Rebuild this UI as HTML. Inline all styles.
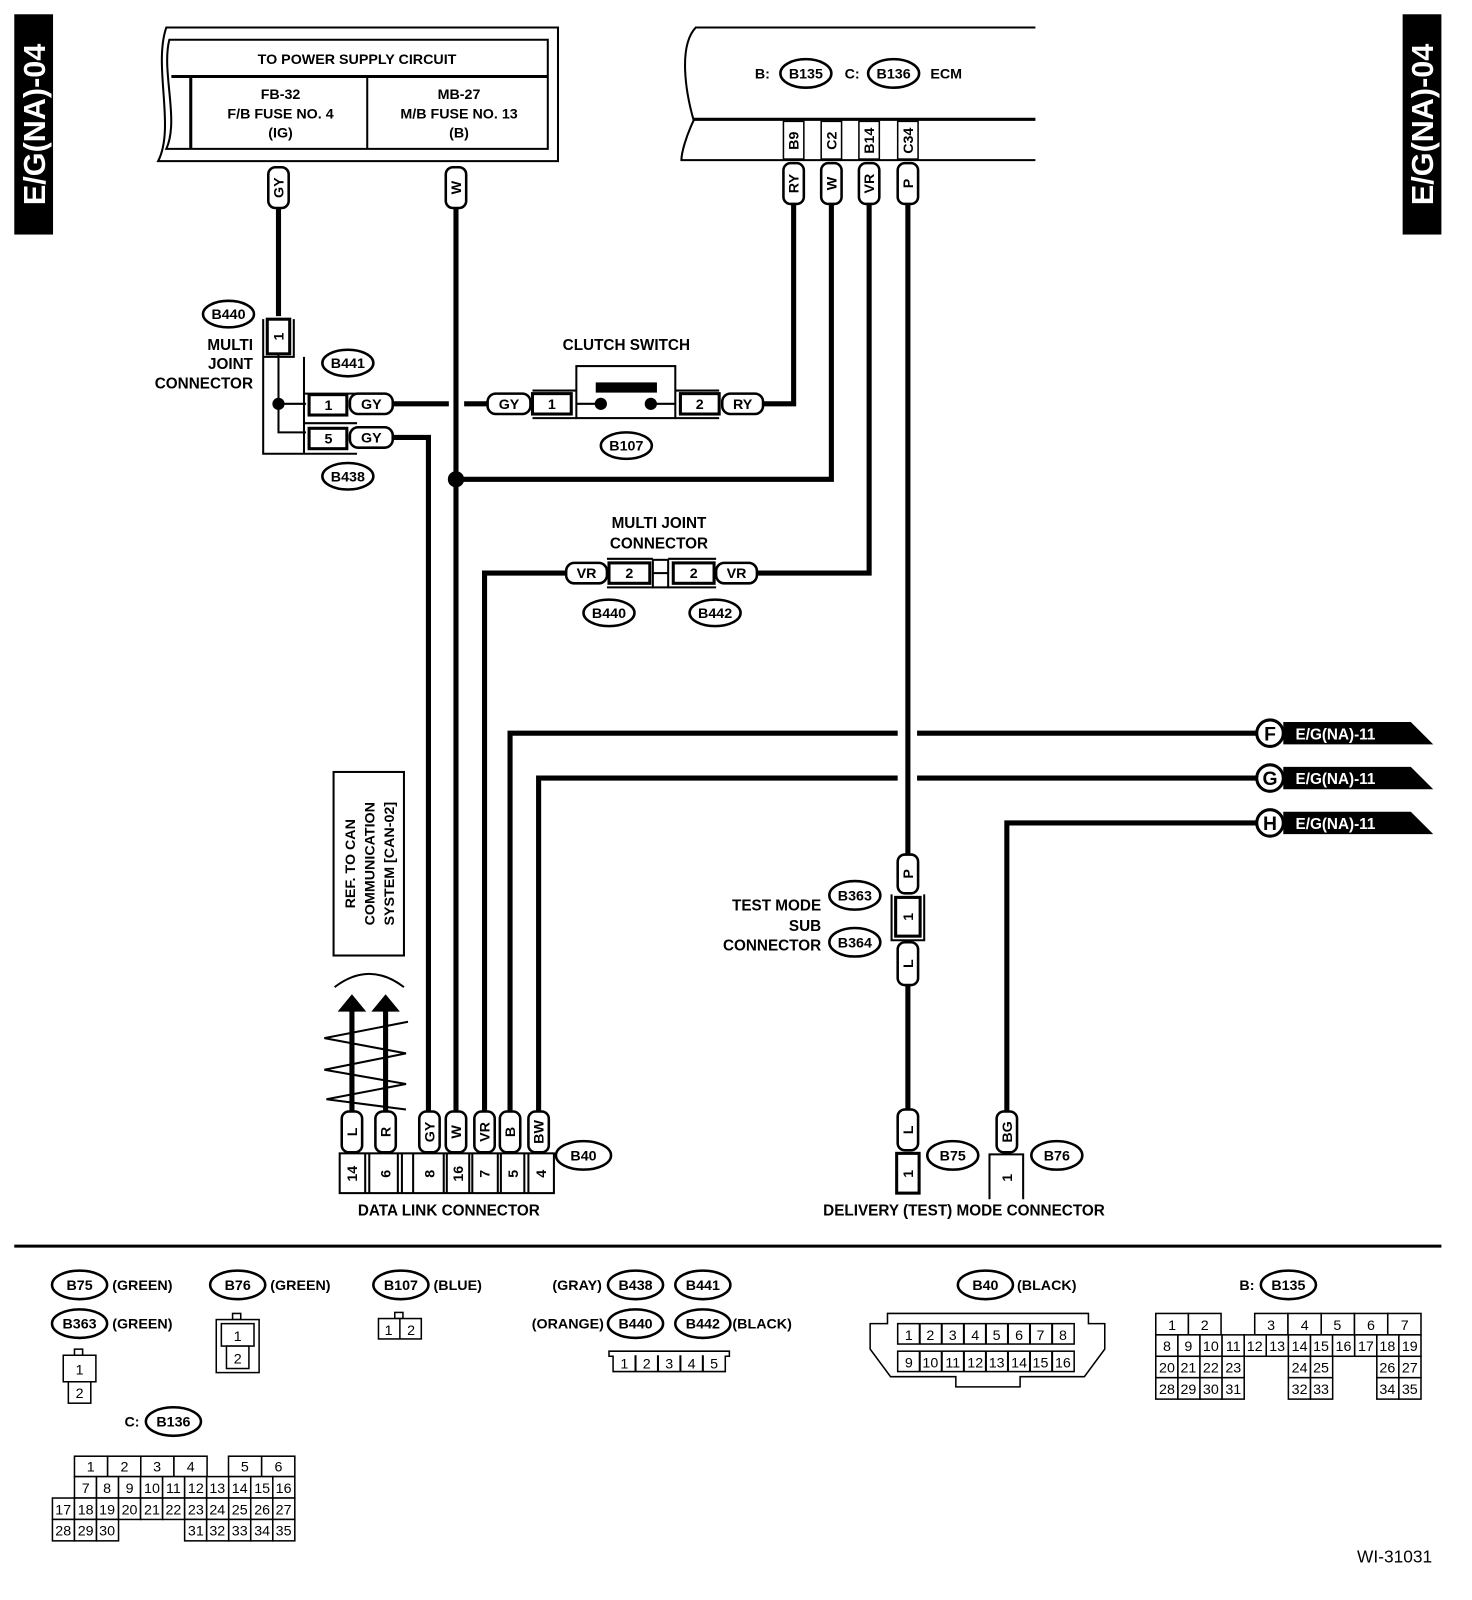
<!DOCTYPE html>
<html><head><meta charset="utf-8"><style>
html,body{margin:0;padding:0;background:#fff}
svg{display:block}
text{font-family:"Liberation Sans",Arial,sans-serif;font-weight:bold;fill:#000}
.w{stroke:#000;stroke-width:5;fill:none}
.t{fill:#fff;stroke:#000;stroke-width:2.5}
.b{fill:#fff;stroke:#000;stroke-width:3}
.o{fill:#fff;stroke:#000;stroke-width:2.5}
.l{fill:none;stroke:#000;stroke-width:2}
.c{fill:#fff;stroke:#000;stroke-width:1.5}
.s{font-size:14px}
.m{font-size:15px}
.g{font-weight:normal;font-size:14px}
</style></head><body>
<svg width="1472" height="1600" viewBox="0 0 1443 1569" preserveAspectRatio="none" xmlns="http://www.w3.org/2000/svg">
<!-- side tabs -->
<rect x="14" y="14" width="38" height="216" fill="#000"/>
<text transform="translate(44,122) rotate(-90)" text-anchor="middle" font-size="30" style="fill:#fff">E/G(NA)-04</text>
<rect x="1375" y="14" width="38" height="216" fill="#000"/>
<text transform="translate(1405,122) rotate(-90)" text-anchor="middle" font-size="30" style="fill:#fff">E/G(NA)-04</text>

<!-- power supply box -->
<path d="M163,27 L547,27 L547,158 L155,158 C172,125 150,65 163,27 Z" class="l" stroke-width="3"/>
<path d="M166,39 L537,39 L537,146 L163,146 C176,118 158,70 166,39 Z" class="l" stroke-width="3"/>
<line x1="168" y1="75" x2="537" y2="75" stroke="#000" stroke-width="3"/>
<line x1="187" y1="75" x2="187" y2="146" stroke="#000" stroke-width="3"/>
<line x1="360" y1="75" x2="360" y2="146" stroke="#000" stroke-width="2"/>
<text x="350" y="63" text-anchor="middle" class="s">TO POWER SUPPLY CIRCUIT</text>
<text x="275" y="97" text-anchor="middle" class="s">FB-32</text>
<text x="275" y="116" text-anchor="middle" class="s">F/B FUSE NO. 4</text>
<text x="275" y="135" text-anchor="middle" class="s">(IG)</text>
<text x="450" y="97" text-anchor="middle" class="s">MB-27</text>
<text x="450" y="116" text-anchor="middle" class="s">M/B FUSE NO. 13</text>
<text x="450" y="135" text-anchor="middle" class="s">(B)</text>

<!-- ECM box -->
<path d="M1015,27 L682,27 C665,45 672,90 680,118 C672,135 668,150 668,157 L1015,157" class="l" stroke-width="3"/>
<line x1="680" y1="117" x2="1015" y2="117" stroke="#000" stroke-width="3"/>
<text x="740" y="77" class="s">B:</text>
<ellipse cx="790" cy="72" rx="25" ry="14" class="o"/><text x="790" y="77" text-anchor="middle" class="s">B135</text>
<text x="828" y="77" class="s">C:</text>
<ellipse cx="876" cy="72" rx="25" ry="14" class="o"/><text x="876" y="77" text-anchor="middle" class="s">B136</text>
<text x="912" y="77" class="s">ECM</text>
<g>
<rect x="768" y="119" width="20" height="37" fill="#fff" stroke="#000" stroke-width="1.5"/>
<rect x="805" y="119" width="20" height="37" fill="#fff" stroke="#000" stroke-width="1.5"/>
<rect x="842" y="119" width="20" height="37" fill="#fff" stroke="#000" stroke-width="1.5"/>
<rect x="880" y="119" width="20" height="37" fill="#fff" stroke="#000" stroke-width="1.5"/>
<text transform="translate(783,138) rotate(-90)" text-anchor="middle" class="s">B9</text>
<text transform="translate(820,138) rotate(-90)" text-anchor="middle" class="s">C2</text>
<text transform="translate(857,138) rotate(-90)" text-anchor="middle" class="s">B14</text>
<text transform="translate(895,138) rotate(-90)" text-anchor="middle" class="s">C34</text>
</g>

<!-- wires -->
<g class="w">
<path d="M273,203 V310"/>
<path d="M447,203 V1090"/>
<path d="M778,200 V396 H748"/>
<path d="M815,200 V470 H447"/>
<path d="M852,200 V562 H742"/>
<path d="M890,200 V838"/>
<path d="M890,965 V1088"/>
<path d="M385,396 H440"/>
<path d="M455,396 H478"/>
<path d="M385,429 H420 V1090"/>
<path d="M555,562 H475 V1090"/>
<path d="M500,1090 V719 H880"/>
<path d="M899,719 H1232"/>
<path d="M528,1090 V763 H880"/>
<path d="M899,763 H1232"/>
<path d="M987,1090 V807 H1232"/>
</g>
<circle cx="447" cy="470" r="8" fill="#000"/>

<!-- top wire tags -->
<rect x="263" y="164" width="20" height="40" rx="7" class="t"/><text transform="translate(278,184) rotate(-90)" text-anchor="middle" class="s">GY</text>
<rect x="437" y="164" width="20" height="40" rx="7" class="t"/><text transform="translate(452,184) rotate(-90)" text-anchor="middle" class="s">W</text>
<rect x="768" y="160" width="20" height="40" rx="7" class="t"/><text transform="translate(783,180) rotate(-90)" text-anchor="middle" class="s">RY</text>
<rect x="805" y="160" width="20" height="40" rx="7" class="t"/><text transform="translate(820,180) rotate(-90)" text-anchor="middle" class="s">W</text>
<rect x="842" y="160" width="20" height="40" rx="7" class="t"/><text transform="translate(857,180) rotate(-90)" text-anchor="middle" class="s">VR</text>
<rect x="880" y="160" width="20" height="40" rx="7" class="t"/><text transform="translate(895,180) rotate(-90)" text-anchor="middle" class="s">P</text>

<!-- multi joint B440/B441/B438 -->
<ellipse cx="224" cy="308" rx="25" ry="13" class="o"/><text x="224" y="313" text-anchor="middle" class="s">B440</text>
<text x="248" y="343" text-anchor="end" class="m">MULTI</text>
<text x="248" y="362" text-anchor="end" class="m">JOINT</text>
<text x="248" y="381" text-anchor="end" class="m">CONNECTOR</text>
<rect x="262" y="313" width="22" height="34" class="b"/>
<text transform="translate(278,330) rotate(-90)" text-anchor="middle" class="s">1</text>
<path d="M258,313 V445 H350 M288,313 V350 H258 M298,350 V445 M298,386 H350 M298,415 H350" class="l" stroke-width="2.5"/>
<path d="M273,347 V424 H300 M273,396 H300" class="l" stroke-width="2.5"/>
<circle cx="273" cy="396" r="6" fill="#000"/>
<rect x="303" y="387" width="37" height="20" class="b"/><text x="322" y="402" text-anchor="middle" class="s">1</text>
<rect x="303" y="420" width="37" height="20" class="b"/><text x="322" y="435" text-anchor="middle" class="s">5</text>
<rect x="343" y="386" width="42" height="20" rx="8" class="t"/><text x="364" y="401" text-anchor="middle" class="s">GY</text>
<rect x="343" y="419" width="42" height="20" rx="8" class="t"/><text x="364" y="434" text-anchor="middle" class="s">GY</text>
<ellipse cx="341" cy="356" rx="25" ry="13" class="o"/><text x="341" y="361" text-anchor="middle" class="s">B441</text>
<ellipse cx="341" cy="467" rx="25" ry="13" class="o"/><text x="341" y="472" text-anchor="middle" class="s">B438</text>

<!-- clutch switch -->
<text x="614" y="343" text-anchor="middle" class="m">CLUTCH SWITCH</text>
<rect x="478" y="386" width="42" height="20" rx="8" class="t"/><text x="499" y="401" text-anchor="middle" class="s">GY</text>
<rect x="522" y="386" width="38" height="20" class="b"/><text x="541" y="401" text-anchor="middle" class="s">1</text>
<path d="M522,383 H565 M522,410 H565" class="l"/>
<rect x="565" y="359" width="97" height="51" class="l" stroke-width="2.5"/>
<rect x="584" y="375" width="60" height="10" fill="#000"/>
<circle cx="589" cy="396" r="6" fill="#000"/><circle cx="638" cy="396" r="6" fill="#000"/>
<path d="M565,396 H589 M638,396 H662" class="l"/>
<rect x="667" y="386" width="38" height="20" class="b"/><text x="686" y="401" text-anchor="middle" class="s">2</text>
<path d="M662,383 H705 M662,410 H705" class="l"/>
<rect x="708" y="386" width="40" height="20" rx="8" class="t"/><text x="728" y="401" text-anchor="middle" class="s">RY</text>
<ellipse cx="614" cy="437" rx="25" ry="13" class="o"/><text x="614" y="442" text-anchor="middle" class="s">B107</text>

<!-- multi joint connector VR -->
<text x="646" y="518" text-anchor="middle" class="m">MULTI JOINT</text>
<text x="646" y="538" text-anchor="middle" class="m">CONNECTOR</text>
<rect x="555" y="552" width="40" height="20" rx="8" class="t"/><text x="575" y="567" text-anchor="middle" class="s">VR</text>
<rect x="597" y="552" width="40" height="20" class="b"/><text x="617" y="567" text-anchor="middle" class="s">2</text>
<rect x="640" y="549" width="15" height="27" class="l"/>
<line x1="640" y1="562" x2="655" y2="562" stroke="#000" stroke-width="2"/>
<path d="M595,548 H640 M595,576 H640 M655,548 H702 M655,576 H702" class="l"/>
<rect x="660" y="552" width="40" height="20" class="b"/><text x="680" y="567" text-anchor="middle" class="s">2</text>
<rect x="702" y="552" width="40" height="20" rx="8" class="t"/><text x="722" y="567" text-anchor="middle" class="s">VR</text>
<ellipse cx="597" cy="601" rx="25" ry="13" class="o"/><text x="597" y="606" text-anchor="middle" class="s">B440</text>
<ellipse cx="701" cy="601" rx="25" ry="13" class="o"/><text x="701" y="606" text-anchor="middle" class="s">B442</text>

<!-- F G H -->
<g>
<polygon points="1258,708 1383,708 1405,730 1258,730" fill="#000"/>
<circle cx="1245" cy="719" r="13" fill="#fff" stroke="#000" stroke-width="3"/>
<text x="1245" y="726" text-anchor="middle" font-size="19">F</text>
<text x="1270" y="725" font-size="15" style="fill:#fff">E/G(NA)-11</text>
<polygon points="1258,752 1383,752 1405,774 1258,774" fill="#000"/>
<circle cx="1245" cy="763" r="13" fill="#fff" stroke="#000" stroke-width="3"/>
<text x="1245" y="770" text-anchor="middle" font-size="19">G</text>
<text x="1270" y="769" font-size="15" style="fill:#fff">E/G(NA)-11</text>
<polygon points="1258,796 1383,796 1405,818 1258,818" fill="#000"/>
<circle cx="1245" cy="807" r="13" fill="#fff" stroke="#000" stroke-width="3"/>
<text x="1245" y="814" text-anchor="middle" font-size="19">H</text>
<text x="1270" y="813" font-size="15" style="fill:#fff">E/G(NA)-11</text>
</g>

<!-- test mode sub connector -->
<rect x="880" y="838" width="20" height="38" rx="7" class="t"/><text transform="translate(895,857) rotate(-90)" text-anchor="middle" class="s">P</text>
<rect x="878" y="880" width="24" height="38" class="b"/><text transform="translate(895,899) rotate(-90)" text-anchor="middle" class="s">1</text>
<path d="M874,877 V922 H906 V877" class="l"/>
<rect x="880" y="924" width="20" height="42" rx="7" class="t"/><text transform="translate(895,945) rotate(-90)" text-anchor="middle" class="s">L</text>
<text x="805" y="893" text-anchor="end" class="m">TEST MODE</text>
<text x="805" y="913" text-anchor="end" class="m">SUB</text>
<text x="805" y="932" text-anchor="end" class="m">CONNECTOR</text>
<ellipse cx="838" cy="878" rx="25" ry="14" class="o"/><text x="838" y="883" text-anchor="middle" class="s">B363</text>
<ellipse cx="838" cy="924" rx="25" ry="14" class="o"/><text x="838" y="929" text-anchor="middle" class="s">B364</text>

<!-- REF box -->
<rect x="327" y="757" width="69" height="180" class="l"/>
<text transform="translate(348,847) rotate(-90)" text-anchor="middle" class="s">REF. TO CAN</text>
<text transform="translate(367,847) rotate(-90)" text-anchor="middle" class="s">COMMUNICATION</text>
<text transform="translate(386,847) rotate(-90)" text-anchor="middle" class="s">SYSTEM [CAN-02]</text>

<!-- DLC arrows -->
<path d="M328,968 Q362,942 396,968" class="l"/>
<path d="M345,1090 V990 M378,1090 V990" class="w"/>
<polygon points="331,992 345,975 359,992" fill="#000"/>
<polygon points="364,992 378,975 392,992" fill="#000"/>
<path d="M400,1002 L318,1018 L398,1033 L318,1049 L398,1063 L320,1078 L398,1088" class="l" stroke-width="3"/>

<!-- DLC tags -->
<g>
<rect x="335" y="1090" width="20" height="40" rx="7" class="t"/><text transform="translate(350,1110) rotate(-90)" text-anchor="middle" class="s">L</text>
<rect x="368" y="1090" width="20" height="40" rx="7" class="t"/><text transform="translate(383,1110) rotate(-90)" text-anchor="middle" class="s">R</text>
<rect x="411" y="1090" width="20" height="40" rx="7" class="t"/><text transform="translate(426,1110) rotate(-90)" text-anchor="middle" class="s">GY</text>
<rect x="437" y="1090" width="20" height="40" rx="7" class="t"/><text transform="translate(452,1110) rotate(-90)" text-anchor="middle" class="s">W</text>
<rect x="465" y="1090" width="20" height="40" rx="7" class="t"/><text transform="translate(480,1110) rotate(-90)" text-anchor="middle" class="s">VR</text>
<rect x="490" y="1090" width="20" height="40" rx="7" class="t"/><text transform="translate(505,1110) rotate(-90)" text-anchor="middle" class="s">B</text>
<rect x="518" y="1090" width="20" height="40" rx="7" class="t"/><text transform="translate(533,1110) rotate(-90)" text-anchor="middle" class="s">BW</text>
</g>
<rect x="333" y="1131" width="210" height="39" class="l" stroke-width="3"/>
<g class="l" stroke-width="2.5">
<path d="M358,1131 V1170 M362,1131 V1170 M390,1131 V1170 M394,1131 V1170 M405,1131 V1170 M435,1131 V1170 M438,1131 V1170 M460,1131 V1170 M463,1131 V1170 M488,1131 V1170 M491,1131 V1170 M514,1131 V1170 M518,1131 V1170"/>
</g>
<text transform="translate(350,1151) rotate(-90)" text-anchor="middle" class="s">14</text>
<text transform="translate(383,1151) rotate(-90)" text-anchor="middle" class="s">6</text>
<text transform="translate(426,1151) rotate(-90)" text-anchor="middle" class="s">8</text>
<text transform="translate(454,1151) rotate(-90)" text-anchor="middle" class="s">16</text>
<text transform="translate(480,1151) rotate(-90)" text-anchor="middle" class="s">7</text>
<text transform="translate(508,1151) rotate(-90)" text-anchor="middle" class="s">5</text>
<text transform="translate(535,1151) rotate(-90)" text-anchor="middle" class="s">4</text>
<ellipse cx="572" cy="1133" rx="27" ry="14" class="o"/><text x="572" y="1138" text-anchor="middle" class="s">B40</text>
<text x="440" y="1192" text-anchor="middle" class="m">DATA LINK CONNECTOR</text>

<!-- delivery mode -->
<rect x="880" y="1088" width="20" height="40" rx="7" class="t"/><text transform="translate(895,1108) rotate(-90)" text-anchor="middle" class="s">L</text>
<rect x="879" y="1131" width="22" height="39" class="b"/><text transform="translate(895,1151) rotate(-90)" text-anchor="middle" class="s">1</text>
<ellipse cx="934" cy="1133" rx="25" ry="14" class="o"/><text x="934" y="1138" text-anchor="middle" class="s">B75</text>
<rect x="977" y="1090" width="20" height="40" rx="7" class="t"/><text transform="translate(992,1110) rotate(-90)" text-anchor="middle" class="s">BG</text>
<path d="M970,1176 V1132 H1003 V1176" class="l" stroke-width="2.5"/>
<text transform="translate(992,1155) rotate(-90)" text-anchor="middle" class="s">1</text>
<ellipse cx="1036" cy="1133" rx="25" ry="14" class="o"/><text x="1036" y="1138" text-anchor="middle" class="s">B76</text>
<text x="945" y="1192" text-anchor="middle" class="m">DELIVERY (TEST) MODE CONNECTOR</text>

<line x1="14" y1="1222" x2="1413" y2="1222" stroke="#000" stroke-width="3"/>

<!-- legend -->
<ellipse cx="78" cy="1260" rx="27" ry="14" class="o"/><text x="78" y="1265" text-anchor="middle" class="s">B75</text>
<text x="110" y="1265" class="s">(GREEN)</text>
<ellipse cx="78" cy="1298" rx="27" ry="14" class="o"/><text x="78" y="1303" text-anchor="middle" class="s">B363</text>
<text x="110" y="1303" class="s">(GREEN)</text>
<rect x="73" y="1323" width="8" height="6" class="c"/>
<rect x="62" y="1329" width="32" height="26" class="c"/><text x="78" y="1348" text-anchor="middle" class="g">1</text>
<rect x="67" y="1355" width="22" height="21" class="c"/><text x="78" y="1371" text-anchor="middle" class="g">2</text>

<ellipse cx="233" cy="1260" rx="27" ry="14" class="o"/><text x="233" y="1265" text-anchor="middle" class="s">B76</text>
<text x="265" y="1265" class="s">(GREEN)</text>
<rect x="228" y="1288" width="8" height="6" class="c"/>
<rect x="212" y="1294" width="42" height="52" class="c"/>
<rect x="217" y="1298" width="32" height="22" class="c"/><text x="233" y="1315" text-anchor="middle" class="g">1</text>
<rect x="222" y="1320" width="22" height="22" class="c"/><text x="233" y="1337" text-anchor="middle" class="g">2</text>

<ellipse cx="393" cy="1260" rx="27" ry="14" class="o"/><text x="393" y="1265" text-anchor="middle" class="s">B107</text>
<text x="425" y="1265" class="s">(BLUE)</text>
<rect x="387" y="1287" width="8" height="6" class="c"/>
<rect x="371" y="1293" width="42" height="20" class="c"/><line x1="392" y1="1293" x2="392" y2="1313" stroke="#000" stroke-width="1.5"/>
<text x="381" y="1309" text-anchor="middle" class="g">1</text><text x="403" y="1309" text-anchor="middle" class="g">2</text>

<text x="590" y="1265" text-anchor="end" class="s">(GRAY)</text>
<ellipse cx="623" cy="1260" rx="27" ry="14" class="o"/><text x="623" y="1265" text-anchor="middle" class="s">B438</text>
<ellipse cx="689" cy="1260" rx="27" ry="14" class="o"/><text x="689" y="1265" text-anchor="middle" class="s">B441</text>
<text x="592" y="1303" text-anchor="end" class="s">(ORANGE)</text>
<ellipse cx="623" cy="1298" rx="27" ry="14" class="o"/><text x="623" y="1303" text-anchor="middle" class="s">B440</text>
<ellipse cx="689" cy="1298" rx="27" ry="14" class="o"/><text x="689" y="1303" text-anchor="middle" class="s">B442</text>
<text x="718" y="1303" class="s">(BLACK)</text>
<path d="M597,1325 V1330 H601 V1345 H711 V1330 H715 V1325 Z" class="c"/>
<g class="l" stroke-width="1.5"><path d="M623,1329 V1345 M645,1329 V1345 M667,1329 V1345 M689,1329 V1345"/></g>
<text x="612" y="1342" text-anchor="middle" class="g">1</text><text x="634" y="1342" text-anchor="middle" class="g">2</text><text x="656" y="1342" text-anchor="middle" class="g">3</text><text x="678" y="1342" text-anchor="middle" class="g">4</text><text x="700" y="1342" text-anchor="middle" class="g">5</text>

<!-- B40 legend -->
<ellipse cx="966" cy="1260" rx="27" ry="14" class="o"/><text x="966" y="1265" text-anchor="middle" class="s">B40</text>
<text x="997" y="1265" class="s">(BLACK)</text>
<path d="M870,1288 H1067 V1298 H1083 V1323 L1063,1350 H1000 V1360 H937 V1350 H873 L853,1323 V1298 H870 Z" class="c"/>
<rect x="880" y="1298" width="173" height="20" class="c"/>
<rect x="880" y="1325" width="173" height="20" class="c"/>
<g class="l" stroke-width="1.5"><path d="M901.6,1298 V1318 M923.2,1298 V1318 M944.9,1298 V1318 M966.5,1298 V1318 M988.1,1298 V1318 M1009.7,1298 V1318 M1031.4,1298 V1318 M901.6,1325 V1345 M923.2,1325 V1345 M944.9,1325 V1345 M966.5,1325 V1345 M988.1,1325 V1345 M1009.7,1325 V1345 M1031.4,1325 V1345"/></g>
<g>
<text x="891" y="1314" class="g" text-anchor="middle">1</text><text x="912" y="1314" class="g" text-anchor="middle">2</text><text x="934" y="1314" class="g" text-anchor="middle">3</text><text x="956" y="1314" class="g" text-anchor="middle">4</text><text x="977" y="1314" class="g" text-anchor="middle">5</text><text x="999" y="1314" class="g" text-anchor="middle">6</text><text x="1020" y="1314" class="g" text-anchor="middle">7</text><text x="1042" y="1314" class="g" text-anchor="middle">8</text>
<text x="891" y="1341" class="g" text-anchor="middle">9</text><text x="912" y="1341" class="g" text-anchor="middle">10</text><text x="934" y="1341" class="g" text-anchor="middle">11</text><text x="956" y="1341" class="g" text-anchor="middle">12</text><text x="977" y="1341" class="g" text-anchor="middle">13</text><text x="999" y="1341" class="g" text-anchor="middle">14</text><text x="1020" y="1341" class="g" text-anchor="middle">15</text><text x="1042" y="1341" class="g" text-anchor="middle">16</text>
</g>

<!-- B135 legend -->
<text x="1215" y="1265" class="s">B:</text>
<ellipse cx="1263" cy="1260" rx="27" ry="14" class="o"/><text x="1263" y="1265" text-anchor="middle" class="s">B135</text>
<g stroke="#000" stroke-width="1.5" fill="#fff">
<rect x="1133" y="1288" width="32" height="21"/><rect x="1165" y="1288" width="32" height="21"/>
<rect x="1230" y="1288" width="32.6" height="21"/><rect x="1262.6" y="1288" width="32.6" height="21"/><rect x="1295.2" y="1288" width="32.6" height="21"/><rect x="1327.8" y="1288" width="32.6" height="21"/><rect x="1360.4" y="1288" width="32.6" height="21"/>
<rect x="1133" y="1309" width="21.7" height="21"/><rect x="1154.7" y="1309" width="21.7" height="21"/><rect x="1176.3" y="1309" width="21.7" height="21"/><rect x="1198" y="1309" width="21.7" height="21"/><rect x="1219.7" y="1309" width="21.7" height="21"/><rect x="1241.3" y="1309" width="21.7" height="21"/><rect x="1263" y="1309" width="21.7" height="21"/><rect x="1284.7" y="1309" width="21.7" height="21"/><rect x="1306.3" y="1309" width="21.7" height="21"/><rect x="1328" y="1309" width="21.7" height="21"/><rect x="1349.7" y="1309" width="21.7" height="21"/><rect x="1371.3" y="1309" width="21.7" height="21"/>
<rect x="1133" y="1330" width="21.7" height="21"/><rect x="1154.7" y="1330" width="21.7" height="21"/><rect x="1176.3" y="1330" width="21.7" height="21"/><rect x="1198" y="1330" width="21.7" height="21"/>
<rect x="1263" y="1330" width="21.7" height="21"/><rect x="1284.7" y="1330" width="21.7" height="21"/>
<rect x="1349.7" y="1330" width="21.7" height="21"/><rect x="1371.3" y="1330" width="21.7" height="21"/>
<rect x="1133" y="1351" width="21.7" height="21"/><rect x="1154.7" y="1351" width="21.7" height="21"/><rect x="1176.3" y="1351" width="21.7" height="21"/><rect x="1198" y="1351" width="21.7" height="21"/>
<rect x="1263" y="1351" width="21.7" height="21"/><rect x="1284.7" y="1351" width="21.7" height="21"/>
<rect x="1349.7" y="1351" width="21.7" height="21"/><rect x="1371.3" y="1351" width="21.7" height="21"/>
</g>
<g>
<text x="1149" y="1304" class="g" text-anchor="middle">1</text><text x="1181" y="1304" class="g" text-anchor="middle">2</text><text x="1246" y="1304" class="g" text-anchor="middle">3</text><text x="1279" y="1304" class="g" text-anchor="middle">4</text><text x="1311" y="1304" class="g" text-anchor="middle">5</text><text x="1344" y="1304" class="g" text-anchor="middle">6</text><text x="1377" y="1304" class="g" text-anchor="middle">7</text>
<text x="1144" y="1325" class="g" text-anchor="middle">8</text><text x="1165" y="1325" class="g" text-anchor="middle">9</text><text x="1187" y="1325" class="g" text-anchor="middle">10</text><text x="1209" y="1325" class="g" text-anchor="middle">11</text><text x="1230" y="1325" class="g" text-anchor="middle">12</text><text x="1252" y="1325" class="g" text-anchor="middle">13</text><text x="1274" y="1325" class="g" text-anchor="middle">14</text><text x="1295" y="1325" class="g" text-anchor="middle">15</text><text x="1317" y="1325" class="g" text-anchor="middle">16</text><text x="1339" y="1325" class="g" text-anchor="middle">17</text><text x="1360" y="1325" class="g" text-anchor="middle">18</text><text x="1382" y="1325" class="g" text-anchor="middle">19</text>
<text x="1144" y="1346" class="g" text-anchor="middle">20</text><text x="1165" y="1346" class="g" text-anchor="middle">21</text><text x="1187" y="1346" class="g" text-anchor="middle">22</text><text x="1209" y="1346" class="g" text-anchor="middle">23</text><text x="1274" y="1346" class="g" text-anchor="middle">24</text><text x="1295" y="1346" class="g" text-anchor="middle">25</text><text x="1360" y="1346" class="g" text-anchor="middle">26</text><text x="1382" y="1346" class="g" text-anchor="middle">27</text>
<text x="1144" y="1367" class="g" text-anchor="middle">28</text><text x="1165" y="1367" class="g" text-anchor="middle">29</text><text x="1187" y="1367" class="g" text-anchor="middle">30</text><text x="1209" y="1367" class="g" text-anchor="middle">31</text><text x="1274" y="1367" class="g" text-anchor="middle">32</text><text x="1295" y="1367" class="g" text-anchor="middle">33</text><text x="1360" y="1367" class="g" text-anchor="middle">34</text><text x="1382" y="1367" class="g" text-anchor="middle">35</text>
</g>

<!-- B136 legend -->
<text x="122" y="1399" class="s">C:</text>
<ellipse cx="170" cy="1394" rx="27" ry="14" class="o"/><text x="170" y="1399" text-anchor="middle" class="s">B136</text>
<g stroke="#000" stroke-width="1.5" fill="#fff">
<rect x="73" y="1428" width="32.5" height="20"/><rect x="105.5" y="1428" width="32.5" height="20"/><rect x="138" y="1428" width="32.5" height="20"/><rect x="170.5" y="1428" width="32.5" height="20"/>
<rect x="224" y="1428" width="32.5" height="20"/><rect x="256.5" y="1428" width="32.5" height="20"/>
<rect x="73" y="1448" width="21.6" height="21"/><rect x="94.6" y="1448" width="21.6" height="21"/><rect x="116.2" y="1448" width="21.6" height="21"/><rect x="137.8" y="1448" width="21.6" height="21"/><rect x="159.4" y="1448" width="21.6" height="21"/><rect x="181" y="1448" width="21.6" height="21"/><rect x="202.6" y="1448" width="21.6" height="21"/><rect x="224.2" y="1448" width="21.6" height="21"/><rect x="245.8" y="1448" width="21.6" height="21"/><rect x="267.4" y="1448" width="21.6" height="21"/>
<rect x="51.4" y="1469" width="21.6" height="21"/><rect x="73" y="1469" width="21.6" height="21"/><rect x="94.6" y="1469" width="21.6" height="21"/><rect x="116.2" y="1469" width="21.6" height="21"/><rect x="137.8" y="1469" width="21.6" height="21"/><rect x="159.4" y="1469" width="21.6" height="21"/><rect x="181" y="1469" width="21.6" height="21"/><rect x="202.6" y="1469" width="21.6" height="21"/><rect x="224.2" y="1469" width="21.6" height="21"/><rect x="245.8" y="1469" width="21.6" height="21"/><rect x="267.4" y="1469" width="21.6" height="21"/>
<rect x="51.4" y="1490" width="21.6" height="21"/><rect x="73" y="1490" width="21.6" height="21"/><rect x="94.6" y="1490" width="21.6" height="21"/>
<rect x="181" y="1490" width="21.6" height="21"/><rect x="202.6" y="1490" width="21.6" height="21"/><rect x="224.2" y="1490" width="21.6" height="21"/><rect x="245.8" y="1490" width="21.6" height="21"/><rect x="267.4" y="1490" width="21.6" height="21"/>
</g>
<g>
<text x="89" y="1443" class="g" text-anchor="middle">1</text><text x="122" y="1443" class="g" text-anchor="middle">2</text><text x="154" y="1443" class="g" text-anchor="middle">3</text><text x="187" y="1443" class="g" text-anchor="middle">4</text><text x="240" y="1443" class="g" text-anchor="middle">5</text><text x="273" y="1443" class="g" text-anchor="middle">6</text>
<text x="84" y="1464" class="g" text-anchor="middle">7</text><text x="105" y="1464" class="g" text-anchor="middle">8</text><text x="127" y="1464" class="g" text-anchor="middle">9</text><text x="149" y="1464" class="g" text-anchor="middle">10</text><text x="170" y="1464" class="g" text-anchor="middle">11</text><text x="192" y="1464" class="g" text-anchor="middle">12</text><text x="213" y="1464" class="g" text-anchor="middle">13</text><text x="235" y="1464" class="g" text-anchor="middle">14</text><text x="257" y="1464" class="g" text-anchor="middle">15</text><text x="278" y="1464" class="g" text-anchor="middle">16</text>
<text x="62" y="1485" class="g" text-anchor="middle">17</text><text x="84" y="1485" class="g" text-anchor="middle">18</text><text x="105" y="1485" class="g" text-anchor="middle">19</text><text x="127" y="1485" class="g" text-anchor="middle">20</text><text x="149" y="1485" class="g" text-anchor="middle">21</text><text x="170" y="1485" class="g" text-anchor="middle">22</text><text x="192" y="1485" class="g" text-anchor="middle">23</text><text x="213" y="1485" class="g" text-anchor="middle">24</text><text x="235" y="1485" class="g" text-anchor="middle">25</text><text x="257" y="1485" class="g" text-anchor="middle">26</text><text x="278" y="1485" class="g" text-anchor="middle">27</text>
<text x="62" y="1506" class="g" text-anchor="middle">28</text><text x="84" y="1506" class="g" text-anchor="middle">29</text><text x="105" y="1506" class="g" text-anchor="middle">30</text><text x="192" y="1506" class="g" text-anchor="middle">31</text><text x="213" y="1506" class="g" text-anchor="middle">32</text><text x="235" y="1506" class="g" text-anchor="middle">33</text><text x="257" y="1506" class="g" text-anchor="middle">34</text><text x="278" y="1506" class="g" text-anchor="middle">35</text>
</g>

<text x="1404" y="1532" text-anchor="end" font-size="17" style="font-weight:normal">WI-31031</text>
</svg>
</body></html>
